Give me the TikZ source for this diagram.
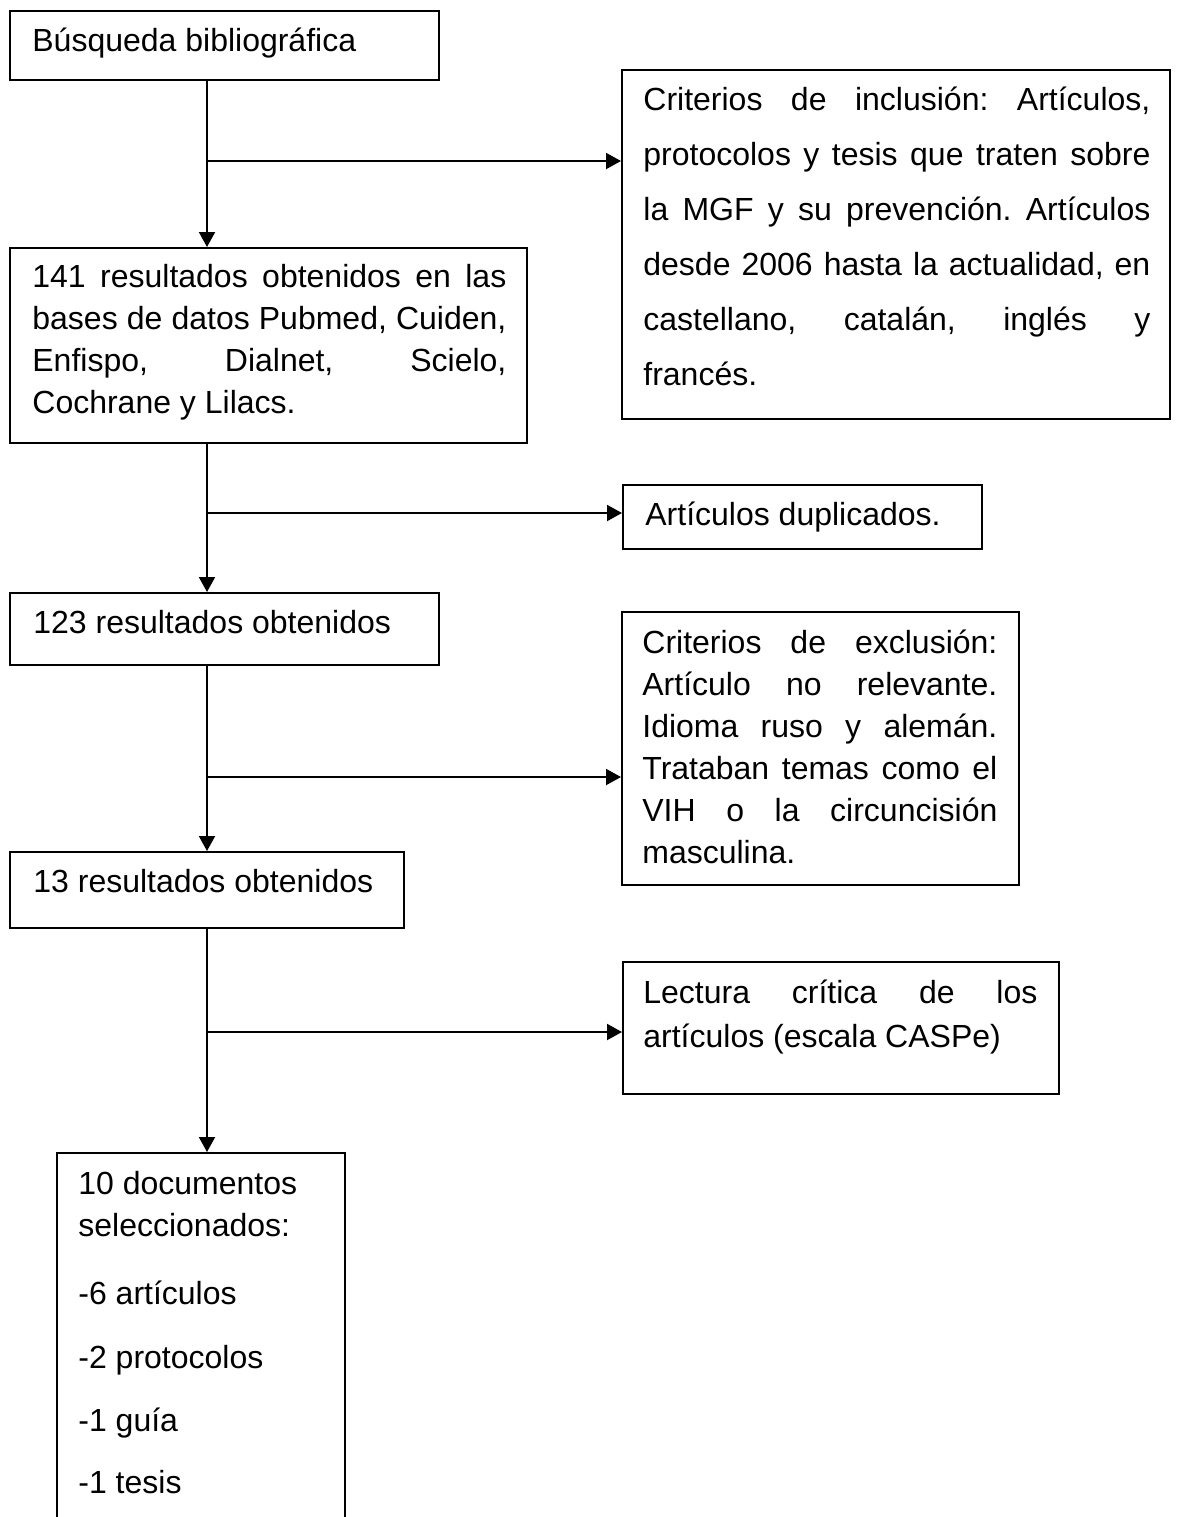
\documentclass[tikz,border=0pt]{standalone}
\usepackage{fontspec}
\setmainfont{Liberation Sans}
\usetikzlibrary{arrows.meta,fit}
\newcommand\jline[1]{\makebox[\linewidth][s]{#1}}
\frenchspacing
\begin{document}
\begin{tikzpicture}[x=0.5pt,y=-0.5pt,
  box/.style={draw, line width=1pt, inner sep=0pt},
  txt/.style={inner sep=0pt, anchor=base west, font=\fontsize{16pt}{21pt}\selectfont},
  arr/.style={line width=1pt, -{Triangle[length=7.5pt,width=8pt]}}]
\useasboundingbox (0,0) rectangle (1177,1517);

% left column boxes
\node[box, fit={(10,11) (439,80)}] (b1) {};
\node[txt] (t1) at (32,51) {Búsqueda bibliográfica};

\node[box, fit={(10,248) (527,443)}] (b2) {};
\node[txt] (t2) at (32,287) {\parbox[t]{237pt}{\fontsize{16pt}{21pt}\selectfont
\jline{141 resultados obtenidos en las}\\
\jline{bases de datos Pubmed, Cuiden,}\\
\jline{Enfispo, Dialnet, Scielo,}\\
Cochrane y Lilacs.}};

\node[box, fit={(10,593) (439,665)}] (b3) {};
\node[txt] (t3) at (33,633) {123 resultados obtenidos};

\node[box, fit={(10,852) (404,928)}] (b4) {};
\node[txt] (t4) at (33,892) {13 resultados obtenidos};

\node[box, fit={(57,1153) (345,1545)}] (b5) {};
\node[txt] (t5) at (78,1194) {\parbox[t]{140pt}{\fontsize{16pt}{21pt}\selectfont
10 documentos\\
seleccionados:\\[13pt]
-6 artículos\\[11pt]
-2 protocolos\\[10.5pt]
-1 guía\\[10pt]
-1 tesis}};

% right column boxes
\node[box, fit={(622,70) (1170,419)}] (inc) {};
\node[txt] (tinc) at (643,110) {\parbox[t]{253.5pt}{\fontsize{16pt}{27.5pt}\selectfont
\jline{Criterios de inclusión: Artículos,}\\
\jline{protocolos y tesis que traten sobre}\\
\jline{la MGF y su prevención. Artículos}\\
\jline{desde 2006 hasta la actualidad, en}\\
\jline{castellano, catalán, inglés y}\\
francés.}};

\node[box, fit={(623,485) (982,549)}] (dup) {};
\node[txt] (tdup) at (645,525) {Artículos duplicados.};

\node[box, fit={(622,612) (1019,885)}] (exc) {};
\node[txt] (texc) at (642,653) {\parbox[t]{177.5pt}{\fontsize{16pt}{21pt}\selectfont
\jline{Criterios de exclusión:}\\
\jline{Artículo no relevante.}\\
\jline{Idioma ruso y alemán.}\\
\jline{Trataban temas como el}\\
\jline{VIH o la circuncisión}\\
masculina.}};

\node[box, fit={(623,962) (1059,1094)}] (lec) {};
\node[txt] (tlec) at (643,1003) {\parbox[t]{197pt}{\fontsize{16pt}{22pt}\selectfont
\jline{Lectura crítica de los}\\
artículos (escala CASPe)}};

% junctions on the trunk
\coordinate (j1) at (207,161);
\coordinate (j2) at (207,513);
\coordinate (j3) at (207,777);
\coordinate (j4) at (207,1032);

% trunk
\draw[arr] (j1 |- b1.south) -- (j1 |- b2.north);
\draw[arr] (j2 |- b2.south) -- (j2 |- b3.north);
\draw[arr] (j3 |- b3.south) -- (j3 |- b4.north);
\draw[arr] (j4 |- b4.south) -- (j4 |- b5.north);

% branches
\draw[arr] (j1) -- (j1 -| inc.west);
\draw[arr] (j2) -- (j2 -| dup.west);
\draw[arr] (j3) -- (j3 -| exc.west);
\draw[arr] (j4) -- (j4 -| lec.west);
\end{tikzpicture}
\end{document}
